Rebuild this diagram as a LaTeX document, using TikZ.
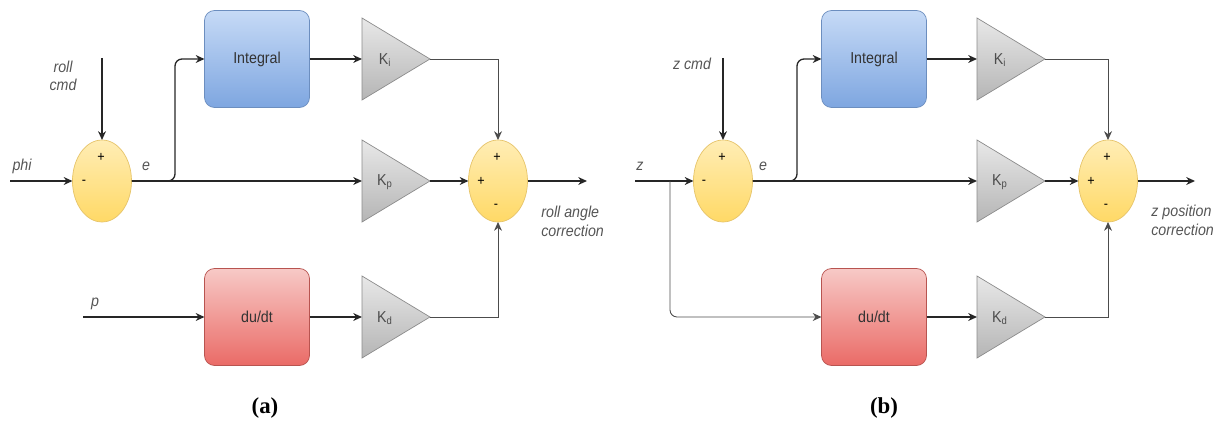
\documentclass[tikz,border=0pt]{standalone}
\usepackage{fontspec}
\newfontfamily\dfont[FakeStretch=0.9]{Liberation Sans}
\newfontfamily\capfont{Liberation Serif}
\usetikzlibrary{shapes.geometric,arrows.meta,calc}
\definecolor{inttop}{HTML}{C6DAF6}
\definecolor{intbot}{HTML}{7EA6E0}
\definecolor{intstroke}{HTML}{6C8EBF}
\definecolor{ddtop}{HTML}{F7C9C7}
\definecolor{ddbot}{HTML}{EA6B66}
\definecolor{ddstroke}{HTML}{B85450}
\definecolor{sumtop}{HTML}{FFEDB5}
\definecolor{sumbot}{HTML}{FFD966}
\definecolor{sumstroke}{HTML}{E6C46A}
\definecolor{gaintop}{HTML}{E8E8E8}
\definecolor{gainbot}{HTML}{B5B5B5}
\definecolor{gainstroke}{HTML}{8C8C8C}
\definecolor{lblgray}{HTML}{555555}
\def\px{0.02cm}
\begin{document}
\begin{tikzpicture}[x=0.02cm,y=-0.02cm,
  blockbox/.style={draw=#1stroke, top color=#1top, bottom color=#1bot, rounded corners=0.2cm,
     minimum width=105*\px, minimum height=97*\px, inner sep=0pt, outer sep=0pt,
     font=\dfont\fontsize{9}{11}\selectfont, text=black!80},
  sumnode/.style={draw=sumstroke, top color=sumtop, bottom color=sumbot, ellipse,
     minimum width=59*\px, minimum height=82*\px, inner sep=0pt, outer sep=0pt},
  gain/.style={draw=gainstroke, top color=gaintop, bottom color=gainbot, isosceles triangle,
     isosceles triangle stretches, shape border rotate=0, minimum width=82*\px,
     minimum height=68*\px, inner sep=0pt, outer sep=0pt, anchor=west},
  glabel/.style={font=\dfont\fontsize{9}{11}\selectfont, text=black!70, inner sep=0pt},
  lbl/.style={font=\dfont\itshape\fontsize{9}{10.5}\selectfont, text=lblgray, inner sep=0pt},
  sgn/.style={font=\dfont\fontsize{8}{9}\selectfont, text=black, inner sep=0pt},
  arr/.style={draw=black!85, line width=0.75pt, -{Stealth[length=5pt,width=4.5pt]}},
  thinarr/.style={draw=black!70, line width=0.5pt, -{Stealth[length=5pt,width=4.5pt]}},
  captext/.style={font=\capfont\bfseries\fontsize{13}{15}\selectfont, inner sep=0pt}
]
\useasboundingbox (0,0) rectangle (1219,422);

% ================= Panel (a) =================
\node[sumnode] (s1a) at (102,181) {};
\node[sumnode] (s2a) at (498,181) {};
\node[blockbox=int] (inta) at (257,59) {Integral};
\node[blockbox=dd] (dda) at (257,317) {du/dt};
\node[gain] (kia) at (362,59) {};
\node[gain] (kpa) at (362,181) {};
\node[gain] (kda) at (362,317) {};
\node[glabel] (kial) at (385,60) {K\textsubscript{i}};
\node[glabel] (kpal) at (385,182) {K\textsubscript{p}};
\node[glabel] (kdal) at (385,318) {K\textsubscript{d}};

\node[sgn] (s1ap) at (101,157) {+};
\node[sgn] (s1am) at (84,182) {-};
\node[sgn] (s2ap) at (497,157) {+};
\node[sgn] (s2al) at (481,181) {+};
\node[sgn] (s2am) at (496,206) {-};

\node[lbl] (phil) at (22,166) {phi};
\node[lbl, align=center] (rolll) at (63,76) {roll\\cmd};
\node[lbl] (ela) at (146,166) {e};
\node[lbl] (plbl) at (95,304) {p};
\node[lbl, align=left, anchor=north west] (outla) at (541,206) {roll angle\\correction};

\coordinate (phiIn) at (10,181);
\coordinate (rollIn) at (102,58);
\coordinate (bra) at (175,181);
\coordinate (pIn) at (83,317);
\coordinate (outa) at (587,181);

\draw[arr] (phiIn) -- (s1a.west);
\draw[arr] (rollIn) -- (s1a.north);
\draw[arr] (s1a.east) -- (kpa.west);
\draw[arr, rounded corners=0.14cm] (s1a.east) -- (bra) -- (bra |- inta.west) -- (inta.west);
\draw[arr] (inta.east) -- (kia.west);
\draw[thinarr] (kia.apex) -| (s2a.north);
\draw[arr] (kpa.apex) -- (s2a.west);
\draw[arr] (s2a.east) -- (outa);
\draw[arr] (pIn) -- (dda.west);
\draw[arr] (dda.east) -- (kda.west);
\draw[thinarr] (kda.apex) -| (s2a.south);

% ================= Panel (b) =================
\node[sumnode] (s1b) at (723,181) {};
\node[sumnode] (s2b) at (1108,181) {};
\node[blockbox=int] (intb) at (874,59) {Integral};
\node[blockbox=dd] (ddb) at (874,317) {du/dt};
\node[gain] (kib) at (977,59) {};
\node[gain] (kpb) at (977,181) {};
\node[gain] (kdb) at (977,317) {};
\node[glabel] (kibl) at (1000,60) {K\textsubscript{i}};
\node[glabel] (kpbl) at (1000,182) {K\textsubscript{p}};
\node[glabel] (kdbl) at (1000,318) {K\textsubscript{d}};

\node[sgn] (s1bp) at (722,157) {+};
\node[sgn] (s1bm) at (704,182) {-};
\node[sgn] (s2bp) at (1107,157) {+};
\node[sgn] (s2bl) at (1091,181) {+};
\node[sgn] (s2bm) at (1106,206) {-};

\node[lbl] (zl) at (640,166) {z};
\node[lbl] (zcmdl) at (692,64) {z cmd};
\node[lbl] (elb) at (763,166) {e};
\node[lbl, align=left, anchor=north west] (outlb) at (1151,205) {z position\\correction};

\coordinate (zIn) at (635,181);
\coordinate (zcmdIn) at (723,58);
\coordinate (brz) at (670,181);
\coordinate (brb) at (797,181);
\coordinate (outb) at (1195,181);

\draw[arr] (zIn) -- (s1b.west);
\draw[arr] (zcmdIn) -- (s1b.north);
\draw[thinarr, rounded corners=0.14cm] (brz) -- (brz |- ddb.west) -- (ddb.west);
\draw[arr] (s1b.east) -- (kpb.west);
\draw[arr, rounded corners=0.14cm] (s1b.east) -- (brb) -- (brb |- intb.west) -- (intb.west);
\draw[arr] (intb.east) -- (kib.west);
\draw[thinarr] (kib.apex) -| (s2b.north);
\draw[arr] (kpb.apex) -- (s2b.west);
\draw[arr] (s2b.east) -- (outb);
\draw[arr] (ddb.east) -- (kdb.west);
\draw[thinarr] (kdb.apex) -| (s2b.south);

% captions
\node[captext] (capa) at (265,408) {(a)};
\node[captext] (capb) at (884,408) {(b)};
\end{tikzpicture}
\end{document}
